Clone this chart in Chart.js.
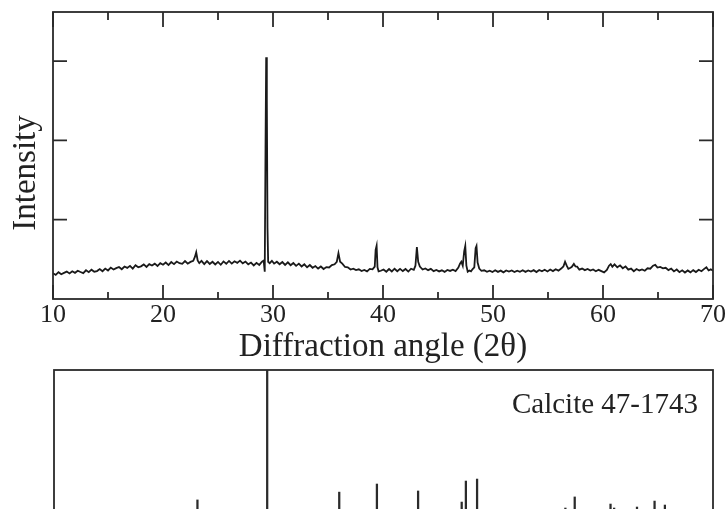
<!DOCTYPE html>
<html>
<head>
<meta charset="utf-8">
<script src="https://cdn.jsdelivr.net/npm/chart.js@4.4.1/dist/chart.umd.min.js"></script>
<style>
  html, body { margin: 0; padding: 0; background: #fff; overflow: hidden; }
  #wrap { position: relative; width: 728px; height: 509px; overflow: hidden; }
  #xrdChart { position: absolute; left: 0; top: 0; }
  #refChart { position: absolute; left: 0; top: 330px; }
</style>
</head>
<body>
<div id="wrap">
  <canvas id="xrdChart" width="728" height="365"></canvas>
  <canvas id="refChart" width="728" height="200"></canvas>
</div>
<script>
// measured pattern, 2-theta (deg) and counts
const angles = [
  10.0, 10.25, 10.5, 10.75, 11.0, 11.25, 11.5, 11.75, 12.0, 12.25, 12.5, 12.75,
  13.0, 13.25, 13.5, 13.75, 14.0, 14.25, 14.5, 14.75, 15.0, 15.25, 15.5, 15.75,
  16.0, 16.25, 16.5, 16.75, 17.0, 17.25, 17.5, 17.75, 18.0, 18.25, 18.5, 18.75,
  19.0, 19.25, 19.5, 19.75, 20.0, 20.25, 20.5, 20.75, 21.0, 21.25, 21.5, 21.75,
  22.0, 22.25, 22.5, 22.75, 22.9, 23.02, 23.15, 23.3, 23.5, 23.75,
  24.0, 24.25, 24.5, 24.75, 25.0, 25.25, 25.5, 25.75, 26.0, 26.25, 26.5, 26.75,
  27.0, 27.25, 27.5, 27.75, 28.0, 28.25, 28.5, 28.75, 29.0, 29.15, 29.25,
  29.32, 29.38, 29.44, 29.5, 29.56, 29.7, 29.9, 30.1, 30.35, 30.6, 30.85,
  31.1, 31.35, 31.6, 31.85, 32.1, 32.35, 32.6, 32.85, 33.1, 33.35, 33.6, 33.85,
  34.1, 34.35, 34.6, 34.85, 35.1, 35.35, 35.6, 35.8, 35.95, 36.1, 36.3, 36.55,
  36.8, 37.05, 37.3, 37.55, 37.8, 38.05, 38.3, 38.55, 38.8, 39.05, 39.25, 39.33,
  39.42, 39.5, 39.6, 39.8, 40.05, 40.3, 40.55, 40.8, 41.05, 41.3, 41.55, 41.8,
  42.05, 42.3, 42.55, 42.8, 42.95, 43.08, 43.2, 43.35, 43.6, 43.85, 44.1, 44.35,
  44.6, 44.85, 45.1, 45.35, 45.6, 45.85, 46.1, 46.35, 46.6, 46.85, 47.0, 47.12,
  47.25, 47.38, 47.48, 47.58, 47.7, 47.85, 48.0, 48.15, 48.3, 48.42, 48.5, 48.6,
  48.75, 48.95, 49.2, 49.45, 49.7, 49.95, 50.2, 50.45, 50.7, 50.95, 51.2, 51.45,
  51.7, 51.95, 52.2, 52.45, 52.7, 52.95, 53.2, 53.45, 53.7, 53.95, 54.2, 54.45,
  54.7, 54.95, 55.2, 55.45, 55.7, 55.95, 56.2, 56.4, 56.55, 56.7, 56.85, 57.0,
  57.15, 57.35, 57.5, 57.65, 57.85, 58.1, 58.35, 58.6, 58.85, 59.1, 59.35, 59.6,
  59.85, 60.1, 60.35, 60.55, 60.7, 60.85, 61.05, 61.3, 61.55, 61.8, 62.05, 62.3,
  62.55, 62.8, 63.05, 63.3, 63.55, 63.8, 64.05, 64.3, 64.55, 64.75, 64.95, 65.2,
  65.45, 65.7, 65.95, 66.2, 66.45, 66.7, 66.95, 67.2, 67.45, 67.7, 67.95, 68.2,
  68.45, 68.7, 68.95, 69.2, 69.4, 69.6, 69.8, 70.0
];
const counts = [
  326, 304, 338, 312, 330, 346, 322, 350, 330, 356, 340, 326,
  362, 338, 370, 344, 352, 378, 350, 384, 360, 396, 372, 390,
  404, 376, 410, 392, 418, 384, 426, 400, 412, 436, 404, 440,
  422, 446, 416, 452, 432, 460, 428, 466, 440, 472, 452, 444,
  478, 446, 468, 482, 530, 590, 486, 452, 480, 440,
  478, 442, 470, 436, 468, 432, 474, 444, 480, 446, 476, 456,
  484, 450, 472, 438, 460, 424, 456, 430, 470, 484, 344,
  1900, 3048, 2500, 900, 470, 452, 482, 446, 470, 438, 466,
  430, 462, 426, 454, 418, 446, 410, 438, 400, 428, 394, 416,
  384, 410, 378, 402, 398, 428, 438, 470, 578, 470, 446, 404,
  400, 372, 382, 364, 374, 352, 366, 348, 380, 374, 409, 620,
  672, 400, 348, 356, 372, 344, 378, 348, 382, 350, 380, 352,
  378, 346, 382, 368, 420, 656, 470, 410, 372, 386, 364, 380,
  352, 366, 348, 362, 342, 366, 354, 370, 352, 396, 445, 470,
  420, 600, 668, 420, 344, 360, 350, 378, 400, 640, 668, 460,
  384, 356, 362, 344, 358, 340, 362, 342, 358, 336, 360, 346,
  360, 340, 358, 344, 362, 342, 360, 346, 364, 340, 366, 350,
  368, 348, 372, 352, 376, 358, 384, 410, 470, 420, 380, 390,
  404, 442, 410, 408, 370, 384, 364, 378, 358, 372, 350, 368,
  352, 336, 366, 420, 440, 406, 436, 400, 424, 388, 412, 370,
  384, 350, 378, 360, 372, 356, 388, 382, 420, 430, 396, 404,
  386, 394, 364, 384, 348, 372, 338, 362, 334, 360, 336, 364,
  340, 368, 350, 380, 400, 360, 374, 357
];

// reference stick pattern, Calcite 47-1743
const refAngles = [23.06, 29.41, 35.97, 39.40, 43.15, 47.12, 47.50, 48.52, 56.56, 57.41, 60.67, 61.00, 63.08, 64.68, 65.62];
const refIntensity = [8.5, 100, 14, 19.7, 14.8, 7, 21.8, 23.2, 2.8, 10.6, 5.6, 2.8, 3.5, 7.7, 4.9];
const refLabel = 'Calcite 47-1743';

const xTickLabels = [10, 20, 30, 40, 50, 60, 70];
const xMinorTicks = [15, 25, 35, 45, 55, 65];
const yTicks = [1000, 2000, 3000];
const xTitle = 'Diffraction angle (2\u03b8)';
const yTitle = 'Intensity';

const serif = '"Liberation Serif", "Times New Roman", serif';
const ink = '#222';

const framePlugin = {
  id: 'frame',
  afterDraw(chart) {
    const { ctx, chartArea: a, scales: { x, y } } = chart;
    ctx.save();
    ctx.strokeStyle = '#2a2a2a';
    ctx.lineWidth = 1.8;
    ctx.strokeRect(a.left, a.top, a.right - a.left, a.bottom - a.top);
    ctx.beginPath();
    xTickLabels.forEach(v => {
      const px = x.getPixelForValue(v);
      ctx.moveTo(px, a.bottom); ctx.lineTo(px, a.bottom - 14);
      ctx.moveTo(px, a.top); ctx.lineTo(px, a.top + 15);
    });
    xMinorTicks.forEach(v => {
      const px = x.getPixelForValue(v);
      ctx.moveTo(px, a.bottom); ctx.lineTo(px, a.bottom - 7);
      ctx.moveTo(px, a.top); ctx.lineTo(px, a.top + 8);
    });
    yTicks.forEach(v => {
      const py = y.getPixelForValue(v);
      ctx.moveTo(a.left, py); ctx.lineTo(a.left + 14, py);
      ctx.moveTo(a.right, py); ctx.lineTo(a.right - 14, py);
    });
    ctx.stroke();

    ctx.fillStyle = ink;
    ctx.font = '33px ' + serif;
    ctx.textAlign = 'center';
    ctx.textBaseline = 'alphabetic';
    ctx.fillText(xTitle, (a.left + a.right) / 2, a.bottom + 57);
    ctx.translate(35, 173);
    ctx.rotate(-Math.PI / 2);
    ctx.fillText(yTitle, 0, 0);
    ctx.restore();
  }
};

const refFramePlugin = {
  id: 'refFrame',
  afterDraw(chart) {
    const { ctx, chartArea: a } = chart;
    ctx.save();
    ctx.strokeStyle = '#2a2a2a';
    ctx.lineWidth = 1.8;
    ctx.strokeRect(a.left, a.top, a.right - a.left, a.bottom - a.top);
    ctx.fillStyle = ink;
    ctx.font = '29px ' + serif;
    ctx.textAlign = 'right';
    ctx.textBaseline = 'alphabetic';
    ctx.fillText(refLabel, a.right - 15, a.top + 43);
    ctx.restore();
  }
};

const xrdChart = new Chart(document.getElementById('xrdChart').getContext('2d'), {
  type: 'line',
  data: {
    datasets: [{
      data: angles.map((a, i) => ({ x: a, y: counts[i] })),
      borderColor: '#1a1a1a',
      borderWidth: 1.8,
      pointRadius: 0,
      tension: 0
    }]
  },
  options: {
    responsive: false,
    animation: false,
    layout: { padding: { top: 12, right: 15, left: 0, bottom: 0 } },
    plugins: { legend: { display: false }, tooltip: { enabled: false } },
    scales: {
      x: {
        type: 'linear',
        min: 10,
        max: 70,
        afterBuildTicks: s => { s.ticks = xTickLabels.map(v => ({ value: v })); },
        afterFit: s => { s.height = 66; },
        grid: { display: false, drawTicks: false },
        border: { display: false },
        ticks: {
          font: { family: serif, size: 26 },
          color: ink,
          padding: 1,
          maxRotation: 0,
          autoSkip: false
        }
      },
      y: {
        min: 0,
        max: 3620,
        afterFit: s => { s.width = 53; },
        grid: { display: false, drawTicks: false },
        border: { display: false },
        ticks: { display: false }
      }
    }
  },
  plugins: [framePlugin]
});

const refChart = new Chart(document.getElementById('refChart').getContext('2d'), {
  type: 'bar',
  data: {
    datasets: [{
      data: refAngles.map((a, i) => ({ x: a, y: refIntensity[i] })),
      backgroundColor: '#2b2b2b',
      barThickness: 1.6
    }]
  },
  options: {
    responsive: false,
    animation: false,
    layout: { padding: { top: 40, left: 54, right: 15, bottom: 18 } },
    plugins: { legend: { display: false }, tooltip: { enabled: false } },
    scales: {
      x: { type: 'linear', min: 10, max: 70, offset: false, grid: { offset: false }, display: false },
      y: { min: 0, max: 100, display: false }
    }
  },
  plugins: [refFramePlugin]
});
</script>
</body>
</html>
